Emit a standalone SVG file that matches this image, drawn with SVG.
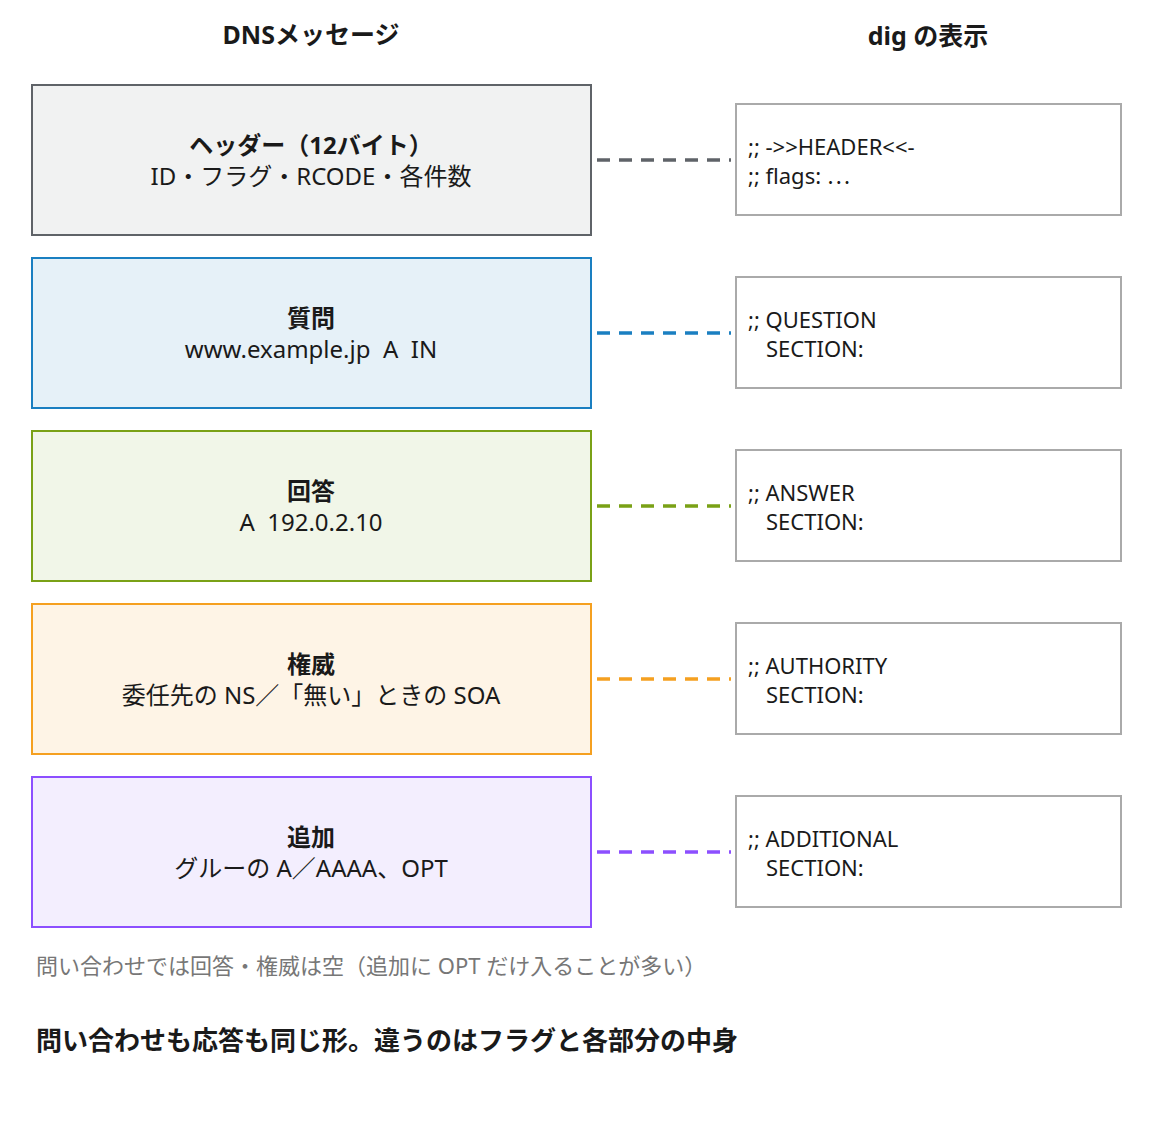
<svg xmlns="http://www.w3.org/2000/svg" width="1153" height="1132" viewBox="0 0 1153 1132">
<style>
text{font-family:"Noto Sans","Noto Sans CJK JP",sans-serif;fill:#1a1a1a;white-space:pre}
.h{font-size:25px;font-weight:bold;text-anchor:middle}
.b{font-size:24px;text-anchor:middle}
.bb{font-size:24px;font-weight:bold;text-anchor:middle}
.d{font-size:22px}
.r{fill:#fff;stroke:#aaaaaa;stroke-width:2}
.c{stroke-width:3.5;stroke-dasharray:13 9;fill:none}
</style>
<rect width="1153" height="1132" fill="#fff"/>
<text class="h" x="311" y="44">DNSメッセージ</text>
<text class="h" x="928" y="45">dig の表示</text>
<g id="n-header"><rect x="32" y="85" width="559" height="150" fill="#f1f2f2" stroke="#5f6368" stroke-width="2"/><text class="bb" x="311" y="154">ヘッダー（12バイト）</text><text class="b" x="311" y="185">ID・フラグ・RCODE・各件数</text></g>
<g id="n-question"><rect x="32" y="258" width="559" height="150" fill="#e6f1f8" stroke="#1a7fc1" stroke-width="2"/><text class="bb" x="311" y="327">質問</text><text class="b" x="311" y="358" xml:space="preserve">www.example.jp  A  IN</text></g>
<g id="n-answer"><rect x="32" y="431" width="559" height="150" fill="#f1f6e8" stroke="#7aa116" stroke-width="2"/><text class="bb" x="311" y="500">回答</text><text class="b" x="311" y="531" xml:space="preserve">A  192.0.2.10</text></g>
<g id="n-authority"><rect x="32" y="604" width="559" height="150" fill="#fef4e6" stroke="#f5a020" stroke-width="2"/><text class="bb" x="311" y="673">権威</text><text class="b" x="311" y="704">委任先の NS／「無い」ときの SOA</text></g>
<g id="n-additional"><rect x="32" y="777" width="559" height="150" fill="#f3eefe" stroke="#8c4fff" stroke-width="2"/><text class="bb" x="311" y="846">追加</text><text class="b" x="311" y="877">グルーの A／AAAA、OPT</text></g>
<g id="d-header"><rect class="r" x="736" y="104" width="385" height="111"/><text class="d" x="748" y="155">;; -&gt;&gt;HEADER&lt;&lt;-</text><text class="d" x="748" y="184">;; flags: ⋯</text></g>
<g id="d-question"><rect class="r" x="736" y="277" width="385" height="111"/><text class="d" x="748" y="328">;; QUESTION</text><text class="d" x="766" y="357">SECTION:</text></g>
<g id="d-answer"><rect class="r" x="736" y="450" width="385" height="111"/><text class="d" x="748" y="501">;; ANSWER</text><text class="d" x="766" y="530">SECTION:</text></g>
<g id="d-authority"><rect class="r" x="736" y="623" width="385" height="111"/><text class="d" x="748" y="674">;; AUTHORITY</text><text class="d" x="766" y="703">SECTION:</text></g>
<g id="d-additional"><rect class="r" x="736" y="796" width="385" height="111"/><text class="d" x="748" y="847">;; ADDITIONAL</text><text class="d" x="766" y="876">SECTION:</text></g>
<g id="connectors">
<line class="c" x1="597" y1="160" x2="731" y2="160" stroke="#5f6368"/>
<line class="c" x1="597" y1="333" x2="731" y2="333" stroke="#1a7fc1"/>
<line class="c" x1="597" y1="506" x2="731" y2="506" stroke="#7aa116"/>
<line class="c" x1="597" y1="679" x2="731" y2="679" stroke="#f5a020"/>
<line class="c" x1="597" y1="852" x2="731" y2="852" stroke="#8c4fff"/>
</g>
<text x="36" y="974" style="font-size:22px;fill:#777">問い合わせでは回答・権威は空（追加に OPT だけ入ることが多い）</text>
<text x="36" y="1050" style="font-size:26px;font-weight:bold">問い合わせも応答も同じ形。違うのはフラグと各部分の中身</text>
</svg>
